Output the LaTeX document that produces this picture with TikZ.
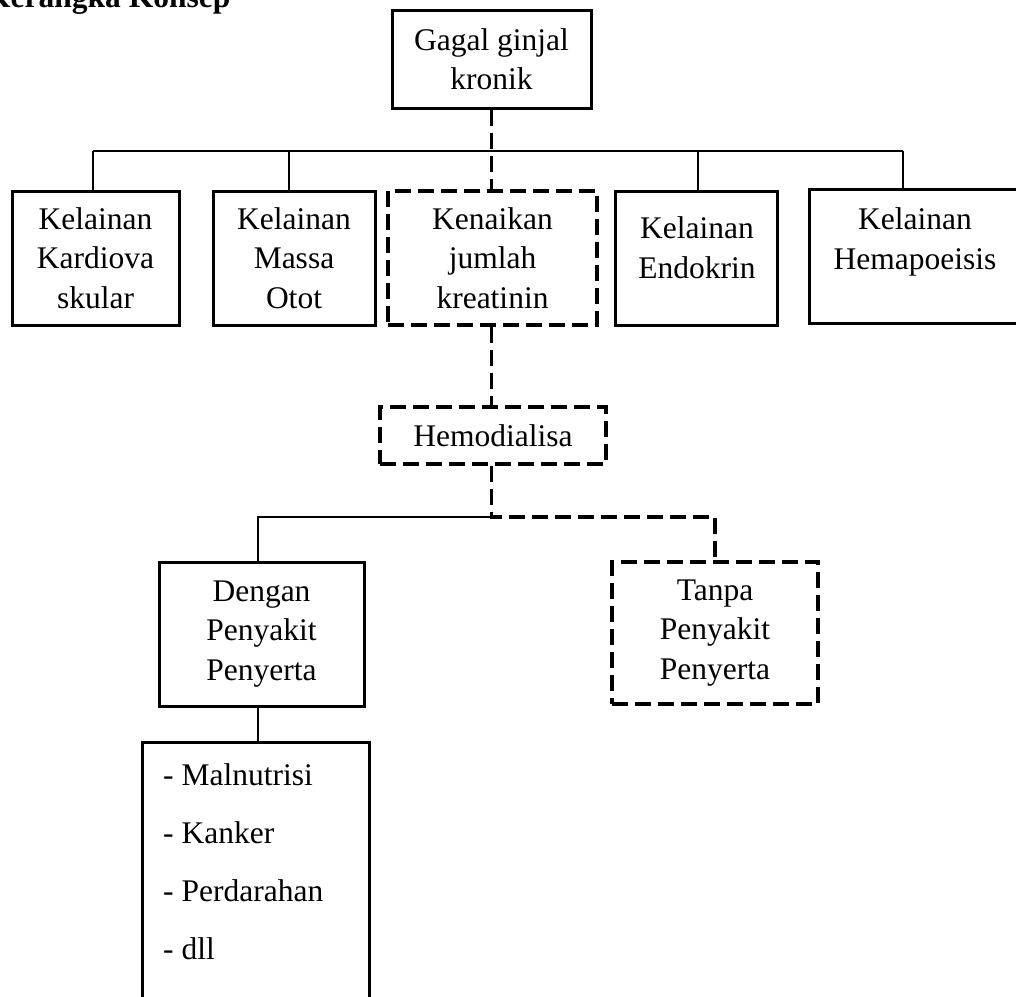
\documentclass[tikz,border=0pt]{standalone}
\usepackage{fontspec}
\setmainfont{Liberation Serif}
\newcommand\diagfont{\fontsize{31.5}{39.5}\selectfont}
\begin{document}
\begin{tikzpicture}[x=1pt,y=-1pt,
  box/.style={draw, line width=3pt, rectangle, inner sep=0pt, align=center, font=\diagfont},
  dbox/.style={box, line width=3.3pt, dash pattern=on 16pt off 7pt},
  txt/.style={inner sep=0pt, align=center, font=\diagfont},
  conn/.style={line width=1.5pt},
  dconn/.style={line width=3.3pt, dash pattern=on 16pt off 7pt}]
\useasboundingbox (0,0) rectangle (1016,996);
\node[anchor=base west, inner sep=0pt, font=\bfseries\fontsize{31.5}{38}\selectfont] (title) at (-14,7.5) {Kerangka Konsep};
\node[box, minimum width=199pt, minimum height=98pt] (gagal) at (491.5,59) {Gagal ginjal\\kronik};
\node[box, minimum width=167pt, minimum height=134pt] (kardio) at (95.5,258) {Kelainan\\Kardiova\\skular};
\node[box, minimum width=162pt, minimum height=134pt] (massa) at (294,258) {Kelainan\\Massa\\Otot};
\node[dbox, minimum width=209pt, minimum height=134pt] (naik) at (492.5,258) {Kenaikan\\jumlah\\kreatinin};
\node[box, minimum width=162pt, minimum height=134pt] (endo) at (696,258) {};
\node[txt] (endoT) at (697,247.5) {Kelainan\\Endokrin};
\node[box, minimum width=212pt, minimum height=134pt] (hema) at (915,256) {};
\node[txt] (hemaT) at (915,242) {Kelainan\\Hemapoeisis};
\node[dbox, minimum width=226pt, minimum height=57pt] (hemo) at (493,435.5) {Hemodialisa};
\node[box, minimum width=205pt, minimum height=144pt] (dengan) at (261.5,634) {Dengan\\Penyakit\\Penyerta};
\node[dbox, minimum width=206pt, minimum height=142pt] (tanpa) at (715,633) {Tanpa\\Penyakit\\Penyerta};
\node[box, minimum width=227pt, minimum height=268pt] (list) at (255.5,876) {};
\node[anchor=north west, inner sep=0pt, align=left, font=\fontsize{31.5}{58}\selectfont] (listT) at (163,763) {- Malnutrisi\\- Kanker\\- Perdarahan\\- dll};
% top bus
\coordinate (busL) at (93,151);
\coordinate (busM) at (289,151);
\coordinate (busE) at (698,151);
\coordinate (busR) at (903,151);
\draw[conn] (busL) -- (busR);
\draw[conn] (busL) -- (busL |- kardio.north);
\draw[conn] (busM) -- (busM |- massa.north);
\draw[conn] (busE) -- (busE |- endo.north);
\draw[conn] (busR) -- (busR |- hema.north);
% dashed spine
\draw[dconn] (gagal.south) -- (gagal.south |- naik.north);
\draw[dconn] (naik.south -| gagal.south) -- (hemo.north -| gagal.south);
\coordinate (split) at (491.5,517);
\coordinate (dl) at (258,517);
\draw[dconn] (hemo.south -| split) -- (split) -| (tanpa.north);
\draw[conn] (split) -- (dl) -- (dl |- dengan.north);
\draw[conn] (dl |- dengan.south) -- (dl |- list.north);
\end{tikzpicture}
\end{document}
